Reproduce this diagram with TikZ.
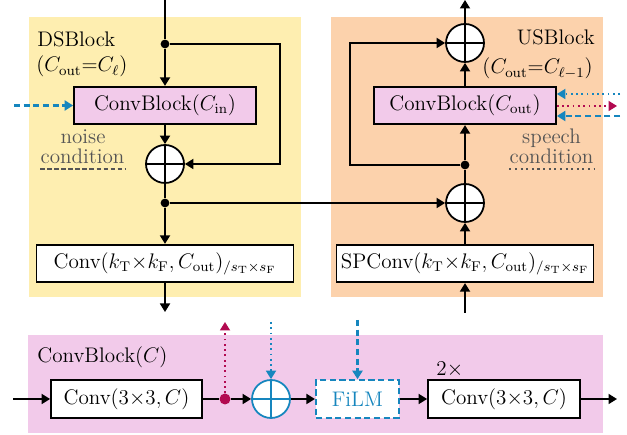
\documentclass[tikz,border=0pt]{standalone}
\usepackage{amssymb}
\usepackage{amsmath}
\usetikzlibrary{arrows.meta}

\definecolor{dsyellow}{RGB}{254,238,176}
\definecolor{usorange}{RGB}{252,210,172}
\definecolor{cbpink}{RGB}{242,202,234}
\definecolor{condblue}{RGB}{22,134,190}
\definecolor{condred}{RGB}{178,10,80}
\definecolor{condgray}{RGB}{84,84,84}

\tikzset{
  blk/.style={draw, line width=1pt, minimum height=0.75cm, inner sep=0pt, font=\large},
  sumnode/.style={circle, draw=#1, line width=1pt, fill=white, minimum size=0.76cm, inner sep=0pt,
    path picture={\draw[#1, line width=1pt] (path picture bounding box.north) -- (path picture bounding box.south)
      (path picture bounding box.west) -- (path picture bounding box.east);}},
  sumnode/.default=black,
  joint/.style={circle, fill, inner sep=0pt, minimum size=5pt},
  conn/.style={line width=1pt, -{Triangle[length=1.7mm,width=2mm]}},
  wire/.style={line width=1pt},
  txt/.style={font=\large, inner sep=0pt},
  dashd/.style={line width=1.2pt, dash pattern=on 3.5pt off 2pt},
}

\begin{document}
\begin{tikzpicture}
    \useasboundingbox (0,0) rectangle (12.54,8.70);
    \fill[dsyellow] (0.58,2.76) rectangle (6.02,8.36);
    \fill[usorange] (6.62,2.76) rectangle (12.06,8.36);
    \fill[cbpink] (0.56,0.04) rectangle (12.06,2.00);

    \node[txt, anchor=base west] (dsname) at (0.74,7.76) {DSBlock};
    \node[txt, anchor=base west] (dsch) at (0.72,7.26) {$(C_{\mathrm{out}}{=}C_{\ell})$};
    \node[txt, anchor=base east] (usname) at (11.90,7.80) {USBlock};
    \node[txt, anchor=base east] (usch) at (11.86,7.22) {$(C_{\mathrm{out}}{=}C_{\ell-1})$};
    \node[txt, anchor=base, text=condgray] (noise) at (1.66,5.82) {noise};
    \node[txt, anchor=base, text=condgray] (noisecond) at (1.65,5.42) {condition};
    \draw[condgray, dash pattern=on 2.5pt off 1.5pt, line width=1.2pt] ([yshift=-2.5pt]noisecond.south west) -- ([yshift=-2.5pt]noisecond.south east);
    \node[txt, anchor=base, text=condgray] (speech) at (11.03,5.82) {speech};
    \node[txt, anchor=base, text=condgray] (speechcond) at (11.03,5.42) {condition};
    \draw[condgray, dotted, line width=1.2pt] ([yshift=-2.5pt]speechcond.south west) -- ([yshift=-2.5pt]speechcond.south east);

    \coordinate (dsin) at (3.30,8.70);
    \node[joint] (dsj1) at (3.30,7.82) {};
    \node[blk, fill=cbpink, minimum width=3.64cm] (cbin) at (3.30,6.59) {ConvBlock$(C_{\mathrm{in}})$};
    \node[sumnode] (dssum) at (3.30,5.42) {};
    \node[joint] (dsj2) at (3.30,4.64) {};
    \node[blk, fill=white, minimum width=5.14cm] (dsconv) at (3.30,3.43) {Conv$(k_{\mathrm{T}}{\times}k_{\mathrm{F}},C_{\mathrm{out}})_{/s_{\mathrm{T}}\times s_{\mathrm{F}}}$};
    \coordinate (dsout) at (3.30,2.46);
    \coordinate (dsloop) at (5.60,7.82);
    \coordinate (noisein) at (0.28,6.59);

    \node[sumnode] (ussum2) at (9.30,7.84) {};
    \coordinate (usout) at (9.30,8.70);
    \node[blk, fill=cbpink, minimum width=3.64cm] (cbout) at (9.30,6.59) {ConvBlock$(C_{\mathrm{out}})$};
    \node[joint] (usj) at (9.30,5.40) {};
    \node[sumnode] (ussum1) at (9.30,4.64) {};
    \node[blk, fill=white, minimum width=5.14cm] (usconv) at (9.30,3.43) {SPConv$(k_{\mathrm{T}}{\times}k_{\mathrm{F}},C_{\mathrm{out}})_{/s_{\mathrm{T}}\times s_{\mathrm{F}}}$};
    \coordinate (usin) at (9.30,2.44);
    \coordinate (usloop) at (7.00,5.40);
    \coordinate (speechin) at (12.40,6.82);
    \coordinate (speechout) at (12.34,6.58);
    \coordinate (noisein2) at (12.40,6.38);

    \draw[wire] (dsin) -- (dsj1);
    \draw[conn] (dsj1) -- (cbin);
    \draw[conn] (cbin) -- (dssum);
    \draw[conn] (dsj1) -- (dsloop) |- (dssum);
    \draw[wire] (dssum) -- (dsj2);
    \draw[conn] (dsj2) -- (dsconv);
    \draw[conn] (dsconv) -- (dsout);
    \draw[conn] (dsj2) -- (ussum1);
    \draw[conn, condblue, dashd] (noisein) -- (cbin);

    \draw[conn] (usin) -- (usconv);
    \draw[conn] (usconv) -- (ussum1);
    \draw[wire] (ussum1) -- (usj);
    \draw[conn] (usj) -- (cbout);
    \draw[conn] (cbout) -- (ussum2);
    \draw[conn] (usj) -- (usloop) |- (ussum2);
    \draw[conn] (ussum2) -- (usout);
    \draw[conn, condblue, dotted] (speechin) -- (speechin -| cbout.east);
    \draw[conn, condred, dotted] (speechout -| cbout.east) -- (speechout);
    \draw[conn, condblue, dashd] (noisein2) -- (noisein2 -| cbout.east);

    \node[txt, anchor=base west] (cbname) at (0.74,1.44) {ConvBlock$(C)$};
    \coordinate (cbin0) at (0.26,0.72);
    \node[blk, fill=white, minimum width=3.02cm] (conv1) at (2.53,0.72) {Conv$(3{\times}3,C)$};
    \node[circle, fill=condred, inner sep=0pt, minimum size=0.22cm] (tap) at (4.50,0.72) {};
    \node[sumnode=condblue] (cbsum) at (5.42,0.72) {};
    \node[blk, draw=condblue, dashd, text=condblue, fill=white, minimum width=1.66cm] (film) at (7.15,0.72) {FiLM};
    \node[blk, fill=white, minimum width=3.04cm] (conv2) at (10.08,0.72) {Conv$(3{\times}3,C)$};
    \node[txt, anchor=base west] (rep) at ([xshift=0.18cm,yshift=0.08cm]conv2.north west) {2$\times$};
    \coordinate (cbout0) at (12.34,0.72);
    \coordinate (tapup) at (4.50,2.26);
    \coordinate (sumcond) at (5.42,2.26);
    \coordinate (filmcond) at (7.15,2.30);

    \draw[conn] (cbin0) -- (conv1);
    \draw[wire] (conv1) -- (tap);
    \draw[conn] (tap) -- (cbsum);
    \draw[conn] (cbsum) -- (film);
    \draw[conn] (film) -- (conv2);
    \draw[conn] (conv2) -- (cbout0);
    \draw[conn, condred, dotted] (tap) -- (tapup);
    \draw[conn, condblue, dotted] (sumcond) -- (cbsum);
    \draw[conn, condblue, dashd] (filmcond) -- (film);
\end{tikzpicture}
\end{document}
